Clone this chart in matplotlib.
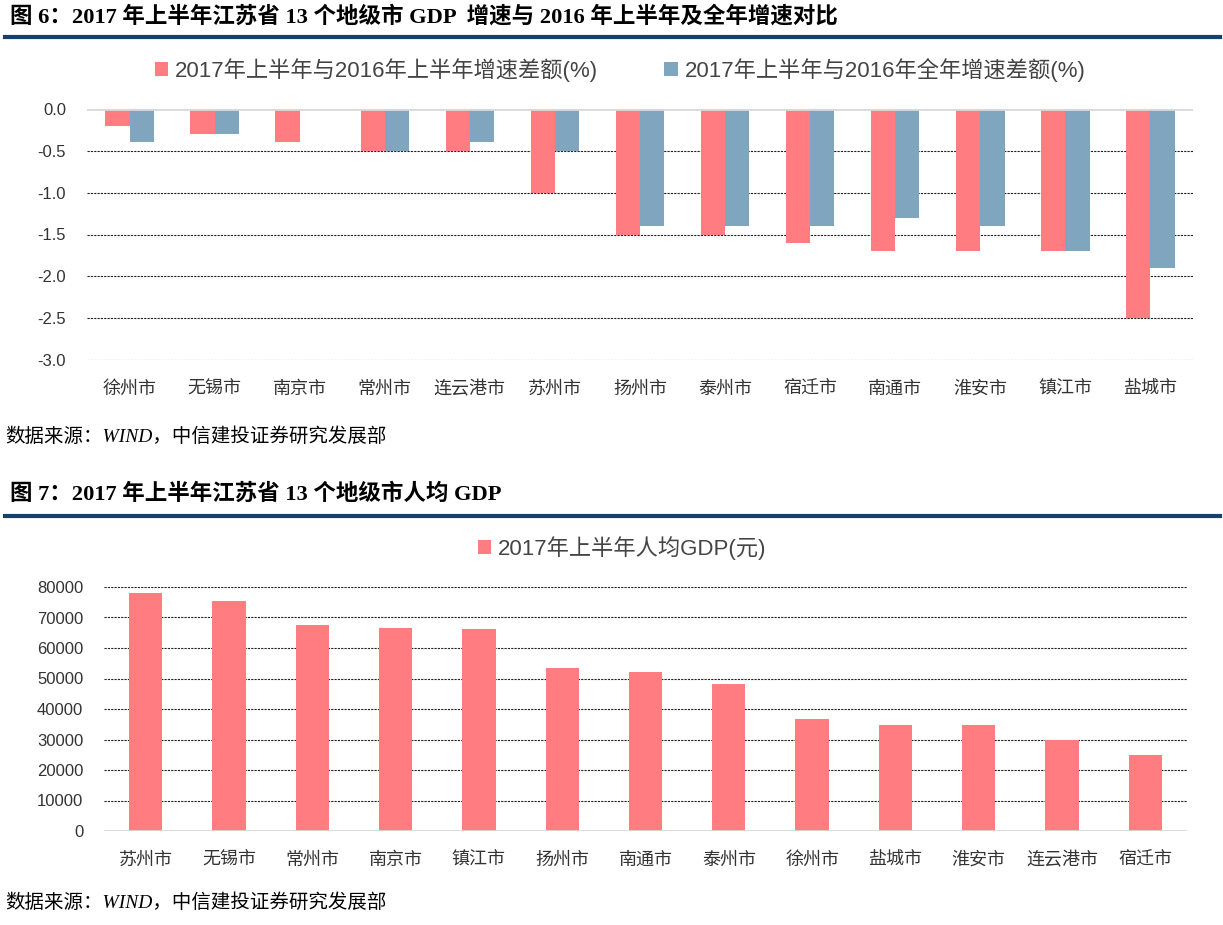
import matplotlib.pyplot as plt
from matplotlib.lines import Line2D
import numpy as np

plt.rcParams['font.family'] = ['Liberation Sans', 'Noto Sans CJK SC']

# figure 6 data
cities6 = ['徐州市', '无锡市', '南京市', '常州市', '连云港市', '苏州市', '扬州市',
           '泰州市', '宿迁市', '南通市', '淮安市', '镇江市', '盐城市']
diff_h1 = [-0.2, -0.3, -0.4, -0.5, -0.5, -1.0, -1.5, -1.5, -1.6, -1.7, -1.7, -1.7, -2.5]
diff_year = [-0.4, -0.3, 0.0, -0.5, -0.4, -0.5, -1.4, -1.4, -1.4, -1.3, -1.4, -1.7, -1.9]
label_h1 = '2017年上半年与2016年上半年增速差额(%)'
label_year = '2017年上半年与2016年全年增速差额(%)'

# figure 7 data
cities7 = ['苏州市', '无锡市', '常州市', '南京市', '镇江市', '扬州市', '南通市',
           '泰州市', '徐州市', '盐城市', '淮安市', '连云港市', '宿迁市']
gdp_pc = [78000, 75400, 67500, 66500, 66100, 53500, 52000,
          48300, 36700, 34600, 34600, 30000, 24800]
label_gdp = '2017年上半年人均GDP(元)'

title6 = '图 6：2017 年上半年江苏省 13 个地级市 GDP  增速与 2016 年上半年及全年增速对比'
title7 = '图 7：2017 年上半年江苏省 13 个地级市人均 GDP'
source = '数据来源：WIND，中信建投证券研究发展部'

pink = '#FF7C80'
blue = '#7FA5BF'
navy = '#17416B'
W, H = 1223, 925

fig = plt.figure(figsize=(W / 100, H / 100), dpi=100)

def fy(py):
    return 1 - py / H

def header(text, ty, ly):
    fig.text(10 / W, fy(ty), text, fontsize=16.2, fontweight='bold',
             family=['Liberation Serif', 'Noto Sans CJK SC'], va='center', ha='left')
    fig.add_artist(Line2D([5 / W, 1220 / W], [fy(ly), fy(ly)], color=navy, lw=3,
                          transform=fig.transFigure))

def style(ax):
    for s in ax.spines.values():
        s.set_visible(False)
    ax.tick_params(length=0, colors='#333333')
    ax.tick_params(axis='y', labelsize=12, pad=15)
    ax.tick_params(axis='x', labelsize=13, pad=15)

# ---- figure 6
header(title6, 17, 37)
ax1 = fig.add_axes([87 / W, fy(360), (1193 - 87) / W, (360 - 109) / H])
x = np.arange(len(cities6))
w = 0.285
ax1.bar(x - w / 2, diff_h1, w, color=pink, label=label_h1, zorder=3)
ax1.bar(x + w / 2, diff_year, w, color=blue, label=label_year, zorder=3)
ax1.set_ylim(-3.0, 0.0)
ax1.set_xlim(-0.5, len(cities6) - 0.5)
ticks6 = np.arange(-3.0, 0.01, 0.5)
ax1.set_yticks(ticks6)
ax1.set_yticklabels(['%.1f' % v for v in ticks6])
ax1.set_xticks(x)
ax1.set_xticklabels(cities6)
for v in ticks6[:-1]:
    ax1.axhline(v, color='#222222', lw=0.8, ls=(0, (2, 1)), zorder=1)
ax1.axhline(0, color='#D9D9D9', lw=2, zorder=4)
style(ax1)
fig.legend(*ax1.get_legend_handles_labels(), loc='center', bbox_to_anchor=(620 / W, fy(70)),
           ncol=2, frameon=False, fontsize=16, handlelength=0.6, handleheight=0.6,
           handletextpad=0.3, columnspacing=3, labelcolor='#444444')
fig.text(5 / W, fy(437), source, fontsize=14, style='italic',
         family=['Liberation Serif', 'Noto Sans CJK SC'], va='center', ha='left')

# ---- figure 7
header(title7, 494, 516)
ax2 = fig.add_axes([104 / W, fy(831), (1187 - 104) / W, (831 - 587) / H])
x2 = np.arange(len(cities7))
ax2.bar(x2, gdp_pc, 0.4, color=pink, label=label_gdp, zorder=3)
ax2.set_ylim(0, 80000)
ax2.set_xlim(-0.5, len(cities7) - 0.5)
ax2.set_yticks(np.arange(0, 80001, 10000))
ax2.set_xticks(x2)
ax2.set_xticklabels(cities7)
for v in np.arange(10000, 80001, 10000):
    ax2.axhline(v, color='#222222', lw=0.8, ls=(0, (2, 1)), zorder=1)
ax2.axhline(0, color='#D9D9D9', lw=2, zorder=4)
style(ax2)
fig.legend(*ax2.get_legend_handles_labels(), loc='center', bbox_to_anchor=(622 / W, fy(548)),
           frameon=False, fontsize=16, handlelength=0.6, handleheight=0.6,
           handletextpad=0.3, labelcolor='#444444')
fig.text(5 / W, fy(903), source, fontsize=14, style='italic',
         family=['Liberation Serif', 'Noto Sans CJK SC'], va='center', ha='left')

fig.savefig('out.png', dpi=100, facecolor='white')
